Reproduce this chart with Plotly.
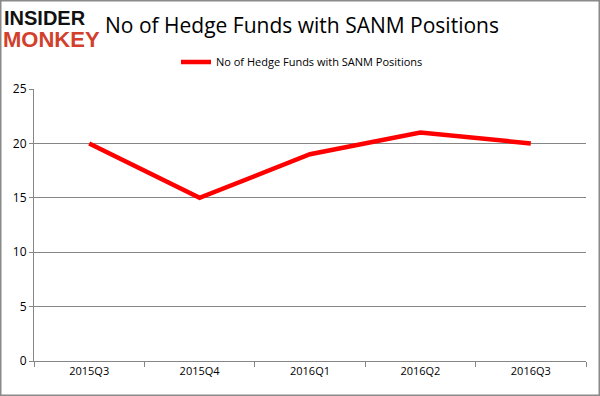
import plotly.graph_objects as go

categories = ["2015Q3", "2015Q4", "2016Q1", "2016Q2", "2016Q3"]
hedge_funds = [20, 15, 19, 21, 20]
series_name = "No of Hedge Funds with SANM Positions"
title_text = "No of Hedge Funds with SANM Positions"
y_ticks = [0, 5, 10, 15, 20, 25]

W, H = 600, 396
ml, mr, mt, mb = 34, 14, 89, 35
pw = W - ml - mr
ph = H - mt - mb

def px_x(x):
    return (x - ml) / pw

def px_y(y):
    return (H - mb - y) / ph

fig = go.Figure()
fig.add_trace(go.Scatter(
    x=categories, y=hedge_funds, mode="lines", name=series_name,
    line=dict(color="#ff0000", width=4.5),
))

fig.update_layout(
    width=W, height=H,
    margin=dict(l=ml, r=mr, t=mt, b=mb, autoexpand=False),
    paper_bgcolor="white", plot_bgcolor="white",
    showlegend=True,
    legend=dict(orientation="h", x=px_x(302), y=px_y(62), xanchor="center", yanchor="middle",
                font=dict(family="Open Sans", size=11, color="#000"),
                bgcolor="rgba(0,0,0,0)"),
    xaxis=dict(type="category", range=[-0.5, 4.5], tickson="boundaries", ticks="outside",
               ticklen=5, tickcolor="#868686", showline=True, linecolor="#868686", linewidth=1,
               showgrid=False, tickfont=dict(family="Open Sans", size=11, color="#000")),
    yaxis=dict(range=[0, 25], tickvals=y_ticks, ticks="outside", ticklen=4, tickcolor="#868686",
               showline=True, linecolor="#868686", linewidth=1, gridcolor="#868686", gridwidth=1,
               zeroline=False, tickfont=dict(family="Open Sans", size=12, color="#000")),
    shapes=[dict(type="rect", xref="paper", yref="paper",
                 x0=px_x(0.75), x1=px_x(W - 0.75), y0=px_y(H - 0.75), y1=px_y(0.75),
                 line=dict(color="#8a8a8a", width=1.5), fillcolor="rgba(0,0,0,0)", layer="above")],
    annotations=[
        dict(text=title_text, xref="paper", yref="paper", x=px_x(302), y=px_y(25),
             xanchor="center", yanchor="middle", showarrow=False,
             font=dict(family="Open Sans", size=21, color="#000")),
        dict(text="<b>INSIDER</b>", xref="paper", yref="paper", x=px_x(3), y=px_y(18),
             xanchor="left", yanchor="middle", showarrow=False, bgcolor="white", borderpad=0,
             font=dict(family="Liberation Sans", size=20, color="#111")),
        dict(text="<b>MONKEY</b>", xref="paper", yref="paper", x=px_x(2), y=px_y(40),
             xanchor="left", yanchor="middle", showarrow=False, bgcolor="white", borderpad=0,
             font=dict(family="Liberation Sans", size=22, color="#d2402c")),
    ],
)

fig.write_html("out.html", config={"displayModeBar": False},
               post_script="document.body.style.margin='0';")
